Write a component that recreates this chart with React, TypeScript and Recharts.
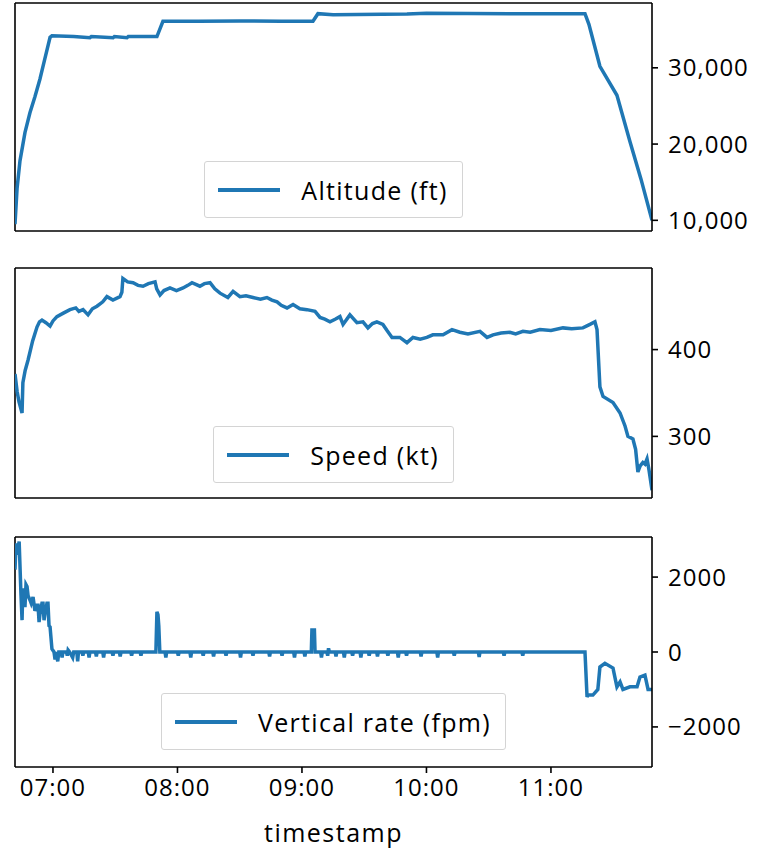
import { LineChart, Line, XAxis, YAxis, Legend, ReferenceLine } from 'recharts';

const BLUE = '#1f77b4';
const FONT = '"Open Sans", "Noto Sans", sans-serif';

// time is minutes after midnight
const timeRange = [401.7, 708.7];
const hourTicks = [420, 480, 540, 600, 660];

const altTime = [401.7, 402.7, 404.1, 406.5, 408.9, 411.3, 413.7, 416.1, 418.6, 419.5, 430, 437.8, 438.5, 449, 449.6, 455.7, 456.3, 470.1, 473.0, 490, 510, 530, 545.3, 547.7, 555, 590.6, 600, 640, 676.4, 678.3, 683.6, 691.8, 698.1, 703.4, 708.7];
const altFt = [9500, 14200, 17800, 21500, 24100, 26200, 28500, 31200, 34000, 34200, 34100, 33950, 34100, 33950, 34100, 33950, 34100, 34100, 36100, 36100, 36150, 36100, 36100, 37100, 36950, 37050, 37150, 37100, 37100, 35700, 30200, 26400, 20300, 15400, 10000];

const spdTime = [401.7, 402.7, 403.6, 405.1, 405.5, 406.6, 408.0, 410.2, 412.3, 413.5, 414.7, 416.6, 418.6, 420.0, 421.9, 425.0, 428.2, 431.0, 432.5, 434.5, 436.9, 439.0, 441.2, 444.0, 446.0, 448.9, 452.3, 453.2, 453.7, 456.0, 458.6, 461.0, 463.4, 466.0, 469.2, 470.0, 471.6, 473.5, 476.4, 479.5, 482.7, 485.0, 487.0, 490.8, 493.0, 495.7, 498.0, 500.5, 504.3, 506.8, 510.1, 513.0, 516.4, 520.0, 523.1, 525.5, 528.0, 530.0, 532.8, 535.7, 539.0, 542.4, 546.3, 548.7, 551.0, 553.5, 556.0, 558.3, 559.8, 563.1, 566.5, 569.4, 571.8, 574.0, 576.1, 579.0, 581.0, 583.4, 587.2, 590.6, 593.5, 597.0, 600.2, 603.1, 608.0, 612.3, 616.1, 620.0, 625.8, 629.2, 632.1, 636.0, 640.2, 643.0, 646.5, 650.0, 654.7, 660.0, 665.8, 670.0, 675.4, 678.8, 681.2, 682.2, 683.6, 685.1, 689.9, 693.3, 695.7, 697.1, 699.5, 700.8, 701.9, 703.0, 704.3, 705.3, 706.3, 707.2, 708.7];
const spdKt = [372, 352, 340, 327, 362, 376, 388, 410, 426, 432, 434, 431, 427, 433, 438, 442, 446, 448, 444, 446, 440, 447, 450, 455, 461, 457, 461, 466, 482, 478, 477, 474, 473, 476, 478, 470, 463, 468, 471, 468, 471, 474, 477, 473, 476, 477, 470, 465, 460, 467, 461, 462, 460, 458, 460, 457, 455, 451, 448, 452, 447, 446, 444, 437, 435, 432, 435, 438, 429, 440, 431, 432, 425, 430, 432, 429, 422, 414, 414, 408, 414, 412, 414, 417, 417, 423, 420, 418, 421, 414, 417, 419, 420, 418, 421, 420, 423, 422, 425, 424, 425, 429, 432, 423, 357, 346, 339, 327, 312, 300, 297, 285, 259, 266, 270, 268, 274, 262, 238];

const vrTime = [
  401.7, 402.2, 402.7, 403.7, 404.6, 405.1, 405.5, 406.0, 406.5, 407.0, 407.5, 408.0, 408.9, 409.5, 410.4, 411.3, 412.3, 412.8, 413.3, 413.7, 414.7, 415.2, 415.7, 416.1, 417.1, 417.6, 418.1, 418.6, 419.5,
  420.5, 421.0, 421.5, 422.3, 422.8, 424.0, 424.4, 424.8, 426.5, 426.9, 427.3, 428.0, 429.5, 430.0, 431.5, 431.9, 432.3, 434.0, 434.4, 434.8, 437.0, 437.4, 437.8, 440.5, 440.9, 441.3, 444.0, 444.4, 444.8, 448.5, 448.9, 449.3, 452.0, 452.4, 452.8, 457.5, 457.9, 458.3, 462.0, 462.4, 462.8,
  469.6, 470.1, 470.6, 471.0, 471.5,
  474.0, 474.4, 474.8, 480.0, 480.4, 480.8, 486.0, 486.4, 486.8, 492.0, 492.4, 492.8, 497.0, 497.4, 497.8, 503.0, 503.4, 503.8, 510.0, 510.4, 510.8, 516.0, 516.4, 516.8, 524.0, 524.4, 524.8, 530.0, 530.4, 530.8, 536.0, 536.4, 536.8, 541.0, 541.4, 541.8,
  544.5, 544.8, 546.0, 546.3,
  549.0, 549.4, 549.8, 552.0, 552.4, 552.8, 553.2, 556.0, 556.4, 556.8, 560.0, 560.4, 560.8, 564.0, 564.4, 564.8, 568.0, 568.4, 568.8, 572.0, 572.4, 572.8, 576.0, 576.4, 576.8, 581.0, 581.4, 581.8, 586.0, 586.4, 586.8, 590.0, 590.4, 590.8, 597.0, 597.4, 597.8, 605.0, 605.4, 605.8, 613.0, 613.4, 613.8, 625.0, 625.4, 625.8, 637.0, 637.4, 637.8, 646.0, 646.4, 646.8,
  676.4, 677.4, 677.8, 680.2, 682.6, 683.6, 686.0, 689.9, 691.8, 693.3, 694.7, 698.1, 701.5, 702.9, 705.3, 706.8, 708.7,
];
const vrFpm = [
  2200, 2900, 2600, 2950, 1500, 850, 1700, 1500, 1200, 1800, 1750, 1500, 1390, 1300, 1470, 1100, 1250, 1250, 800, 1000, 1300, 1300, 850, 1000, 1300, 1300, 700, 670, 80,
  0, -200, 0, -250, 0, 0, -150, 0, 0, -100, 50, 0, -150, 0, 0, -250, 0, 0, -100, 0, 0, -150, 0, 0, -120, 0, 0, -150, 0, 0, -100, 0, 0, -120, 0, 0, -100, 0, 0, -100, 0,
  0, 1070, 1000, 700, 0,
  0, -150, 0, 0, -100, 0, 0, -150, 0, 0, -100, 0, 0, -120, 0, 0, -100, 0, 0, -150, 0, 0, -100, 0, 0, -120, 0, 0, -100, 0, 0, -150, 0, 0, -120, 0,
  0, 590, 590, 0,
  0, -150, 0, 0, -100, 100, 0, 0, -120, 0, 0, -150, 0, 0, -100, 0, 0, -150, 0, 0, -100, 0, 0, -120, 0, 0, -100, 0, 0, -150, 0, 0, -100, 0, 0, -120, 0, 0, -150, 0, 0, -100, 0, 0, -130, 0, 0, -100, 0, 0, -100, 0,
  0, -1200, -1150, -1150, -1000, -400, -300, -430, -930, -800, -1000, -930, -930, -670, -620, -1000, -1000,
];

const altData = altTime.map((t, i) => ({ t, v: altFt[i] }));
const spdData = spdTime.map((t, i) => ({ t, v: spdKt[i] }));
const vrData = vrTime.map((t, i) => ({ t, v: vrFpm[i] }));

const fmtTime = (m: number) =>
  `${String(Math.floor(m / 60)).padStart(2, '0')}:${String(Math.round(m % 60)).padStart(2, '0')}`;

const axisStroke = { stroke: '#000', strokeWidth: 1.6 };
const tickStyle = { fill: '#000', fontSize: 24, fontFamily: FONT, letterSpacing: 1 };

function LegendBox(props: any) {
  const label = props.payload && props.payload[0] ? props.payload[0].value : '';
  return (
    <div style={{ textAlign: 'center' }}>
      <div
        style={{
          display: 'inline-flex',
          alignItems: 'center',
          height: 57,
          boxSizing: 'border-box',
          border: '1.5px solid #d4d4d4',
          borderRadius: 3,
          background: 'rgba(255,255,255,0.8)',
          padding: '0 14px 0 13px',
        }}
      >
        <svg width={62} height={8}>
          <line x1={0} y1={4} x2={62} y2={4} stroke={BLUE} strokeWidth={4} />
        </svg>
        <span style={{ marginLeft: 21, fontSize: 25, letterSpacing: 1.3, fontFamily: FONT, color: '#000' }}>{label}</span>
      </div>
    </div>
  );
}

type PanelProps = {
  data: { t: number; v: number }[];
  name: string;
  domain: number[];
  ticks: number[];
  fmt: (v: number) => string;
  top: number;
  height: number;
  marginTop: number;
  legendTop: number;
  bottom?: boolean;
};

function Panel(p: PanelProps) {
  return (
    <div style={{ position: 'absolute', left: 0, top: p.top }}>
      <LineChart
        width={773}
        height={p.height}
        data={p.data}
        margin={{ top: p.marginTop, right: 0, bottom: p.bottom ? 0 : 4, left: 15 }}
      >
        <XAxis
          dataKey="t"
          type="number"
          domain={timeRange}
          allowDataOverflow
          ticks={hourTicks}
          interval={0}
          tickFormatter={fmtTime}
          tick={p.bottom ? tickStyle : false}
          tickSize={6}
          tickMargin={6}
          height={p.bottom ? 83 : 10}
          axisLine={axisStroke}
          tickLine={axisStroke}
          label={p.bottom ? { value: 'timestamp', position: 'insideBottom', offset: 8, fill: '#000', fontSize: 25, letterSpacing: 1.5, fontFamily: FONT } : undefined}
        />
        <YAxis
          yAxisId="v"
          orientation="right"
          type="number"
          domain={p.domain}
          allowDataOverflow
          ticks={p.ticks}
          interval={0}
          tickFormatter={p.fmt}
          width={121}
          tick={tickStyle}
          tickSize={6}
          tickMargin={10}
          axisLine={axisStroke}
          tickLine={axisStroke}
        />
        {/* top and left spines */}
        <ReferenceLine yAxisId="v" y={p.domain[1]} stroke="#000" strokeWidth={1.6} />
        <ReferenceLine yAxisId="v" x={timeRange[0]} stroke="#000" strokeWidth={1.6} />
        <Legend
          layout="horizontal"
          verticalAlign="middle"
          align="center"
          content={LegendBox}
          wrapperStyle={{ left: 15, width: 637, top: p.legendTop }}
        />
        <Line
          yAxisId="v"
          dataKey="v"
          name={p.name}
          type="linear"
          stroke={BLUE}
          strokeWidth={3.5}
          dot={false}
          isAnimationActive={false}
        />
      </LineChart>
    </div>
  );
}

export default function App() {
  return (
    <div style={{ position: 'absolute', left: 0, top: 0, width: 773, height: 850, background: '#fff' }}>
      <Panel
        data={altData}
        name="Altitude (ft)"
        domain={[8600, 38500]}
        ticks={[10000, 20000, 30000]}
        fmt={(v) => v.toLocaleString('en-US')}
        top={0}
        height={245}
        marginTop={3}
        legendTop={161}
      />
      <Panel
        data={spdData}
        name="Speed (kt)"
        domain={[229, 494]}
        ticks={[300, 400]}
        fmt={(v) => String(v)}
        top={245}
        height={267}
        marginTop={23}
        legendTop={181}
      />
      <Panel
        data={vrData}
        name="Vertical rate (fpm)"
        domain={[-3070, 3070]}
        ticks={[-2000, 0, 2000]}
        fmt={(v) => (v < 0 ? '\u2212' + Math.abs(v) : String(v))}
        top={512}
        height={338}
        marginTop={25}
        legendTop={181}
        bottom
      />
    </div>
  );
}
